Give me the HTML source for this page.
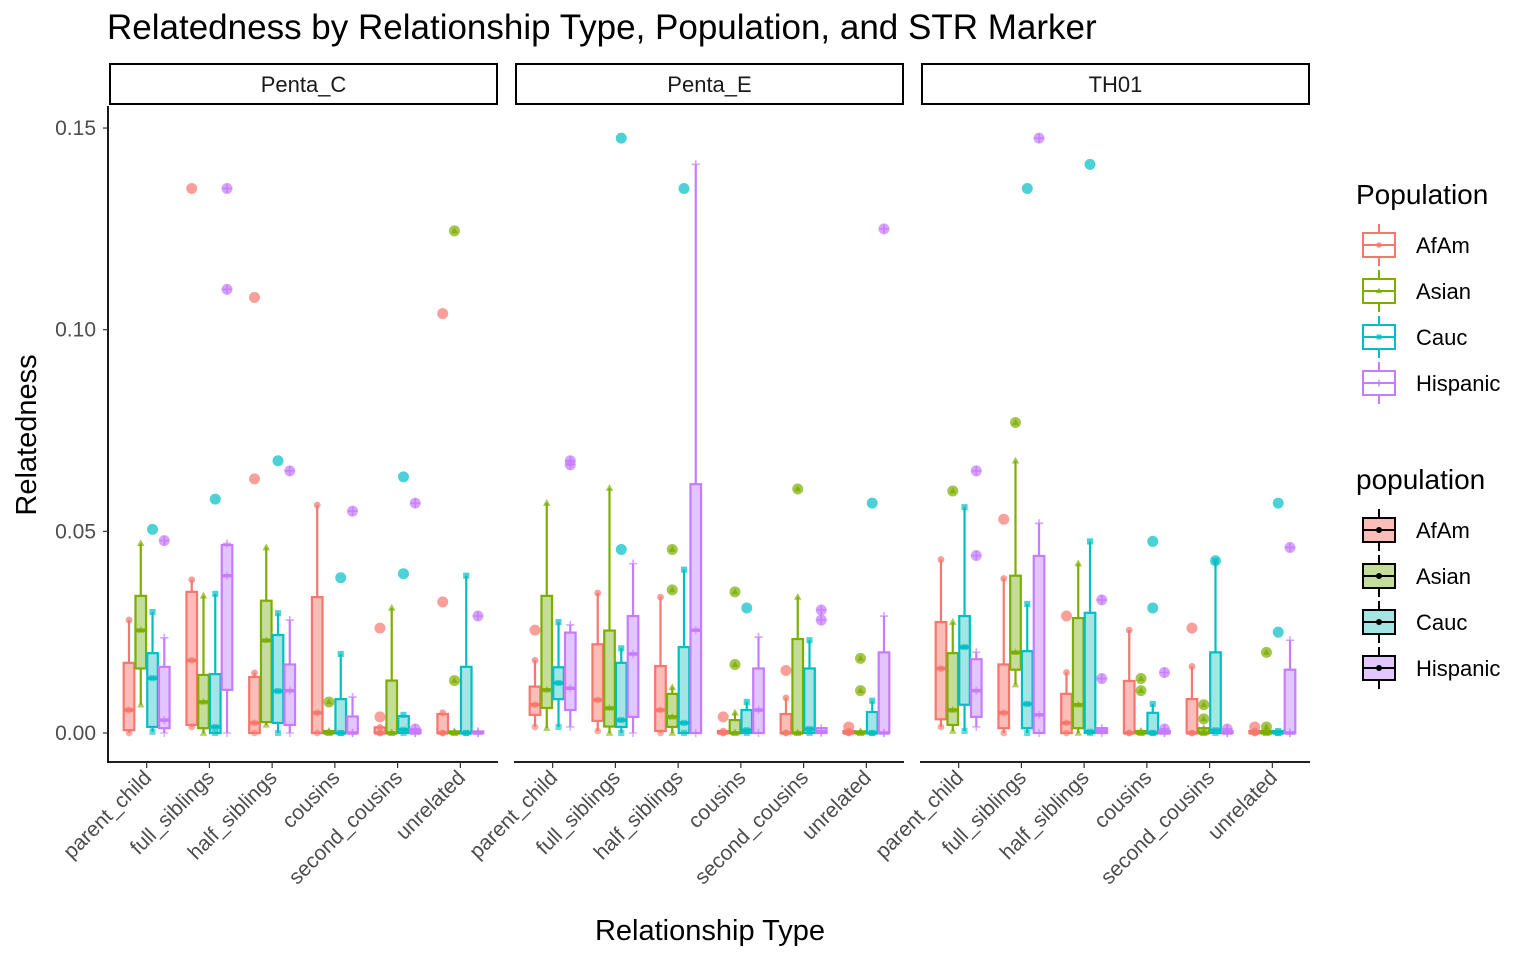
<!DOCTYPE html>
<html><head><meta charset="utf-8"><style>
body{margin:0;background:#fff;font-family:"Liberation Sans",Arial,sans-serif;}
svg text{font-family:"Liberation Sans",Arial,sans-serif;}
</style></head><body>
<svg id="chart" width="1536" height="960" xmlns="http://www.w3.org/2000/svg">
<text x="107" y="39" font-size="35" fill="#000">Relatedness by Relationship Type, Population, and STR Marker</text>
<g id="plot"></g>
<text x="710" y="940" font-size="29" text-anchor="middle">Relationship Type</text>
<text transform="translate(36,435) rotate(-90)" font-size="29" text-anchor="middle">Relatedness</text>
<g id="legend"></g>
</svg>
<script>
const panels=["Penta_C","Penta_E","TH01"];
const categories=["parent_child","full_siblings","half_siblings","cousins","second_cousins","unrelated"];
const populations=["AfAm","Asian","Cauc","Hispanic"];
const yTicks=[0,0.05,0.10,0.15];
const yTickLabels=["0.00","0.05","0.10","0.15"];
// [panel][category][population]
const q1=[
[[0.0007,0.016,0.0015,0.0012],[0.002,0.0012,0,0.0107],[0,0.0027,0.0025,0.002],[0,0,0,0],[0,0,0,0],[0,0,0,0]],
[[0.0045,0.0062,0.0084,0.0057],[0.003,0.0016,0.0015,0.004],[0.0005,0.0015,0,0],[0,0,0,0],[0,0,0,0],[0,0,0,0]],
[[0.0034,0.002,0.007,0.004],[0.0012,0.0157,0.0012,0],[0,0.0012,0,0],[0,0,0,0],[0,0,0,0],[0,0,0,0]]];
const med=[
[[0.0057,0.0255,0.0136,0.0032],[0.018,0.0077,0.0015,0.039],[0.0025,0.023,0.0104,0.0105],[0.005,0,0,0],[0,0,0.0008,0],[0,0,0,0]],
[[0.007,0.0107,0.0124,0.0111],[0.0082,0.0062,0.0032,0.0196],[0.0057,0.004,0.0025,0.0255],[0,0,0.0007,0.0057],[0,0,0.001,0.0003],[0,0,0,0]],
[[0.016,0.0057,0.0213,0.0105],[0.005,0.02,0.0072,0.0045],[0.0025,0.007,0.0003,0.0005],[0,0,0,0],[0,0,0.0007,0],[0,0,0,0]]];
const q3=[
[[0.0174,0.034,0.0198,0.0164],[0.035,0.0144,0.0146,0.0466],[0.0139,0.0328,0.0243,0.017],[0.0337,0.0005,0.0084,0.0041],[0.0014,0.013,0.0042,0.0008],[0.0047,0.0004,0.0164,0.0004]],
[[0.0115,0.034,0.0163,0.0249],[0.022,0.0254,0.0174,0.029],[0.0166,0.0097,0.0213,0.0617],[0.0005,0.0032,0.0057,0.016],[0.0047,0.0233,0.016,0.0012],[0.0005,0.0004,0.0052,0.02]],
[[0.0275,0.0198,0.029,0.0183],[0.017,0.039,0.0203,0.0439],[0.0097,0.0285,0.0298,0.0012],[0.0129,0.0005,0.005,0.0005],[0.0084,0.0012,0.02,0.0005],[0.0005,0.0005,0.0005,0.0157]]];
const whLo=[
[[0,0.007,0.0003,0],[0.0015,0,0,0],[0,0.002,0,0],[0,0,0,0],[0,0,0,0],[0,0,0,0]],
[[0.0015,0.0012,0.0015,0.0015],[0.0005,0,0,0],[0,0,0,0],[0,0,0,0],[0,0,0,0],[0,0,0,0]],
[[0.0015,0.0005,0.0005,0.0015],[0,0.012,0,0],[0,0,0,0],[0,0,0,0],[0,0,0,0],[0,0,0,0]]];
const whHi=[
[[0.028,0.047,0.030,0.0236],[0.038,0.034,0.0345,0.047],[0.0149,0.046,0.0297,0.028],[0.0565,0.0005,0.0196,0.0089],[0.0014,0.031,0.0045,0.0008],[0.005,0.0004,0.039,0.0004]],
[[0.018,0.057,0.0275,0.0268],[0.0347,0.0607,0.021,0.042],[0.0337,0.0113,0.0405,0.141],[0.0005,0.005,0.0077,0.0238],[0.0087,0.0337,0.023,0.0012],[0.0005,0.0004,0.008,0.029]],
[[0.043,0.0275,0.056,0.020],[0.0383,0.0675,0.032,0.052],[0.015,0.042,0.0475,0.0012],[0.0255,0.0005,0.0072,0.0005],[0.0165,0.0012,0.0427,0.0005],[0.0005,0.0005,0.0005,0.023]]];
// outliers: [panel, category, population, value]
const outliers=[
[0,0,2,0.0505],[0,0,3,0.0477],[0,1,0,0.135],[0,1,2,0.058],[0,1,3,0.135],[0,1,3,0.11],
[0,2,0,0.108],[0,2,0,0.063],[0,2,2,0.0675],[0,2,3,0.065],[0,3,1,0.0077],[0,3,2,0.0385],[0,3,3,0.055],
[0,4,0,0.026],[0,4,0,0.004],[0,4,2,0.0395],[0,4,2,0.0635],[0,4,3,0.057],[0,4,3,0.001],
[0,5,0,0.104],[0,5,0,0.0325],[0,5,1,0.1245],[0,5,1,0.013],[0,5,3,0.029],
[1,0,0,0.0255],[1,0,3,0.0675],[1,0,3,0.0665],[1,1,2,0.0455],[1,1,2,0.1475],
[1,2,1,0.0455],[1,2,1,0.0355],[1,2,2,0.135],[1,3,0,0.004],[1,3,1,0.035],[1,3,1,0.017],[1,3,2,0.031],
[1,4,0,0.0155],[1,4,1,0.0605],[1,4,3,0.0305],[1,4,3,0.028],[1,5,0,0.0015],[1,5,1,0.0185],[1,5,1,0.0105],[1,5,2,0.057],[1,5,3,0.125],
[2,0,1,0.06],[2,0,3,0.065],[2,0,3,0.044],[2,1,0,0.053],[2,1,1,0.077],[2,1,2,0.135],[2,1,3,0.1475],
[2,2,0,0.029],[2,2,2,0.141],[2,2,3,0.033],[2,2,3,0.0135],[2,3,1,0.0135],[2,3,1,0.0105],[2,3,2,0.0475],[2,3,2,0.031],[2,3,3,0.015],[2,3,3,0.001],
[2,4,0,0.026],[2,4,1,0.007],[2,4,1,0.0035],[2,4,2,0.0427],[2,4,3,0.001],[2,5,0,0.0015],[2,5,1,0.02],[2,5,1,0.0015],[2,5,2,0.057],[2,5,2,0.025],[2,5,3,0.046]];
const colors=["#F8766D","#7CAE00","#00BFC4","#C77CFF"];
const fills=["#FBBDB8","#C5DD9A","#A3E4E5","#E3C5FF"];

const NS="http://www.w3.org/2000/svg";
const panelLeft=[109,515,921],panelW=389,unit=panelW/6.2;
function yS(v){return 733-v*4033;}
function xS(p,c,k){return panelLeft[p]+(0.6+c)*unit+(k-1.5)*unit*0.1875;}
function mk(tag,attrs,parent){const e=document.createElementNS(NS,tag);for(const a in attrs)e.setAttribute(a,attrs[a]);parent.appendChild(e);return e;}
const plot=document.getElementById("plot");
function marker(g,k,x,y,r,op){
  let e;
  if(k===0){e=mk("circle",{cx:x,cy:y,r:r,fill:colors[k],opacity:op},g);}
  else if(k===1){e=mk("polygon",{points:`${x},${y-r*1.2} ${x-r*1.1},${y+r*0.8} ${x+r*1.1},${y+r*0.8}`,fill:colors[k],opacity:op},g);}
  else if(k===2){e=mk("rect",{x:x-r*0.9,y:y-r*0.9,width:r*1.8,height:r*1.8,fill:colors[k],opacity:op},g);}
  else {e=mk("path",{d:`M${x-r*1.2},${y}H${x+r*1.2}M${x},${y-r*1.2}V${y+r*1.2}`,stroke:colors[k],"stroke-width":1.6,fill:"none",opacity:op},g);}
  return e;
}
mk("line",{x1:108,y1:106,x2:108,y2:763,stroke:"#000","stroke-width":1.8},plot);
yTicks.forEach((t,i)=>{
  const y=yS(t);
  const tk=mk("line",{x1:103,y1:y,x2:108,y2:y,stroke:"#333","stroke-width":1.2},plot);
  
  
  const tl=mk("text",{x:96,y:y+7,"font-size":21,"text-anchor":"end",fill:"#4d4d4d"},plot);
  tl.textContent=yTickLabels[i];
  
  
});
panels.forEach((pn,p)=>{
  const L=panelLeft[p];
  const strip=mk("rect",{x:L+1,y:64,width:panelW-2,height:40,fill:"#fff",stroke:"#000","stroke-width":2},plot);
  
  
  const st=mk("text",{x:L+panelW/2,y:92,"font-size":22,"text-anchor":"middle",fill:"#1a1a1a"},plot);
  st.textContent=pn;
  
  
  const ax=mk("line",{x1:L-1,y1:762,x2:L+panelW,y2:762,stroke:"#000","stroke-width":1.8},plot);
  
  
  categories.forEach((cat,c)=>{
    const cx=L+(0.6+c)*unit;
    mk("line",{x1:cx,y1:762,x2:cx,y2:768,stroke:"#333","stroke-width":1.2},plot);
    const tl=mk("text",{transform:`translate(${cx+6},${779}) rotate(-45)`,"font-size":21,"text-anchor":"end",fill:"#4d4d4d"},plot);
    tl.textContent=cat;
    
    
    populations.forEach((pop,k)=>{
      const g=mk("g",{},plot);
      
      
      const x=xS(p,c,k),w=unit*0.1875*0.9;
      mk("line",{x1:x,y1:yS(whHi[p][c][k]),x2:x,y2:yS(whLo[p][c][k]),stroke:colors[k],"stroke-width":2.2},g);
      const top=yS(q3[p][c][k]),bot=yS(q1[p][c][k]);
      mk("rect",{x:x-w/2,y:top,width:w,height:Math.max(bot-top,0.5),fill:fills[k],stroke:colors[k],"stroke-width":2.2},g);
      mk("line",{x1:x-w/2,y1:yS(med[p][c][k]),x2:x+w/2,y2:yS(med[p][c][k]),stroke:colors[k],"stroke-width":3.5},g);
      marker(g,k,x,yS(whHi[p][c][k]),3.4,0.7);
      marker(g,k,x,yS(med[p][c][k]),3.4,0.6);
      marker(g,k,x,yS(whLo[p][c][k]),3.4,0.6);
    });
  });
});
outliers.forEach(o=>{
  const [p,c,k,v]=o;
  const x=xS(p,c,k),y=yS(v);
  const g=mk("g",{},plot);
  
  
  mk("circle",{cx:x,cy:y,r:5.5,fill:colors[k],opacity:0.7},g);
  if(k===1)marker(g,1,x,y,3,0.8);
  if(k===3)marker(g,3,x,y,4,0.9);
});
const lg=document.getElementById("legend");
function legTitle(t,y){const e=mk("text",{x:1356,y:y,"font-size":28,fill:"#000"},lg);e.textContent=t;}
legTitle("Population",204);legTitle("population",489);
populations.forEach((pop,k)=>{
  const y=245+k*46;
  const g=mk("g",{},lg);
  
  
  mk("line",{x1:1379,y1:y-21,x2:1379,y2:y+21,stroke:colors[k],"stroke-width":2},g);
  mk("rect",{x:1363,y:y-12,width:32,height:24,fill:"#fff",stroke:colors[k],"stroke-width":2},g);
  mk("line",{x1:1363,y1:y,x2:1395,y2:y,stroke:colors[k],"stroke-width":2},g);
  marker(g,k,1379,y,2.8,0.8);
  const t=mk("text",{x:1416,y:y+8,"font-size":22,fill:"#000"},g);t.textContent=pop;
  const y2=530+k*46;
  const g2=mk("g",{},lg);
  
  
  mk("line",{x1:1379,y1:y2-21,x2:1379,y2:y2+21,stroke:"#000","stroke-width":2},g2);
  mk("rect",{x:1363,y:y2-12,width:32,height:24,fill:fills[k],stroke:"#000","stroke-width":2},g2);
  mk("line",{x1:1363,y1:y2,x2:1395,y2:y2,stroke:"#000","stroke-width":2},g2);
  mk("circle",{cx:1379,cy:y2,r:3,fill:"#000"},g2);
  const t2=mk("text",{x:1416,y:y2+8,"font-size":22,fill:"#000"},g2);t2.textContent=pop;
});
</script>
</body></html>
